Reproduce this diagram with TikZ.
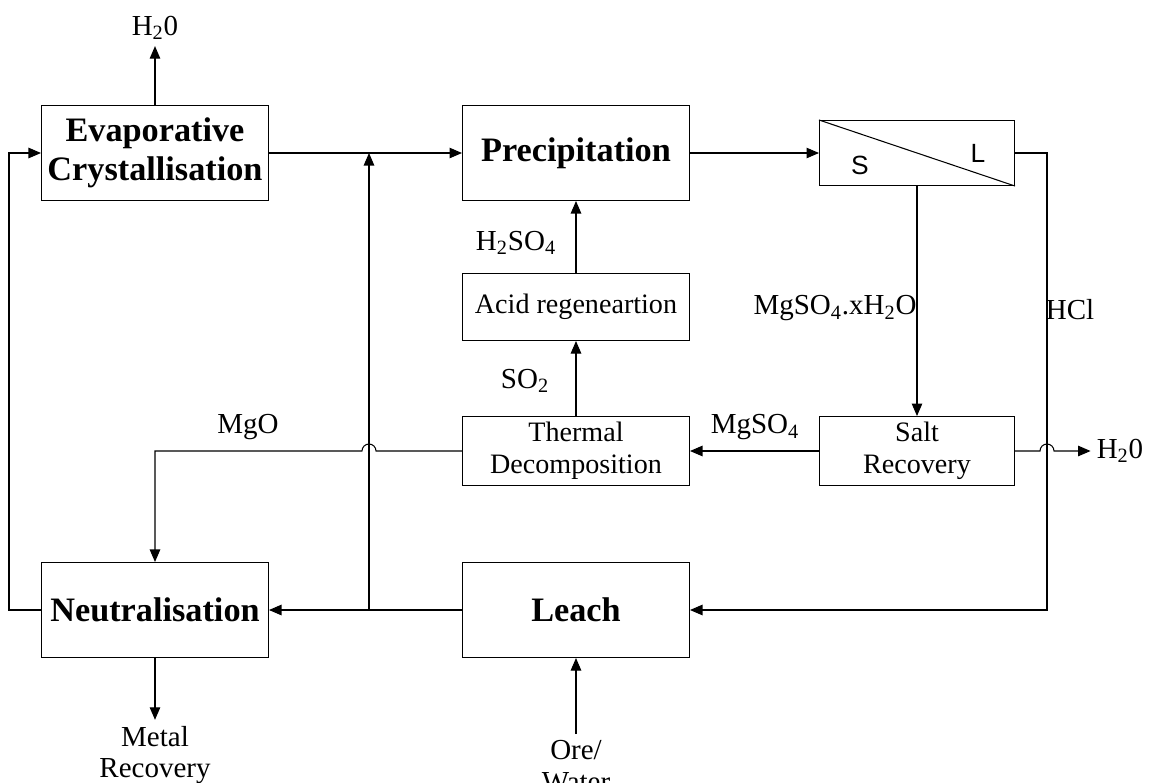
\documentclass[tikz,border=0pt]{standalone}
\usepackage{fontspec}
\setmainfont{Liberation Serif}
\newfontfamily\slfont{Liberation Sans}
\usetikzlibrary{arrows.meta, positioning}

\begin{document}
\begin{tikzpicture}[x=0.02cm, y=-0.02cm,
      unit/.style={draw, line width=0.6pt, minimum width=4.54cm, minimum height=1.9cm,
                   align=center, font=\fontsize{19.5}{22}\selectfont\bfseries},
      sub/.style={draw, line width=0.6pt, minimum width=4.54cm, minimum height=1.34cm,
                  align=center, font=\fontsize{16}{18}\selectfont},
      narrow/.style={minimum width=3.9cm, minimum height=1.3cm},
      lbl/.style={align=center, font=\fontsize{16.5}{18}\selectfont},
      phase/.style={font=\slfont\fontsize{15}{15}\selectfont},
      flow/.style={-{Triangle[length=2.5mm,width=2.1mm]}, line width=0.6pt},
      pipe/.style={line width=0.6pt}]
    \useasboundingbox (0,0) rectangle (1153,782);
    % process units
    \node[unit] (evap) at (155,153) {Evaporative\\Crystallisation};
    \node[unit] (precip) at (576,153) {Precipitation};
    \node[sub, narrow] (sep) at (917,153) {};
    \draw[pipe] (sep.north west) -- (sep.south east);
    \node[phase] (solid) at (860,165) {S};
    \node[phase] (liquid) at (978,153) {L};
    \node[sub] (acid) at (576,307) {Acid regeneartion};
    \node[sub] (thermal) at (576,451) {Thermal\\Decomposition};
    \node[sub, narrow] (salt) at (917,451) {Salt\\Recovery};
    \node[unit] (neut) at (155,610) {Neutralisation};
    \node[unit] (leach) at (576,610) {Leach};
    % stream labels
    \node[lbl] (topwater) at (155,28) {H\textsubscript{2}0};
    \node[lbl] (sidewater) at (1120,451) {H\textsubscript{2}0};
    \node[lbl] (metal) at (155,755) {Metal\\Recovery};
    \node[lbl] (ore) at (576,766) {Ore/\\Water};
    \node[lbl] (hcl) at (1070,310) {HCl};
    \node[lbl] (hydrate) at (835,308) {MgSO\textsubscript{4}.xH\textsubscript{2}O};
    \node[lbl] (sulfate) at (755,427) {MgSO\textsubscript{4}};
    \node[lbl] (dioxide) at (525,381) {SO\textsubscript{2}};
    \node[lbl] (acidout) at (516,243) {H\textsubscript{2}SO\textsubscript{4}};
    \node[lbl] (oxide) at (248,427) {MgO};
    \coordinate (split) at (369,610);
    \coordinate (hclbend) at (1047,153);
    % streams
    \draw[flow] (evap.north) -- (topwater.south);
    \draw[flow] (evap.east) -- (precip.west);
    \draw[flow] (precip.east) -- (sep.west);
    \draw[flow] (sep.south) -- (salt.north);
    \draw[flow] (sep.east) -- (hclbend) |- (leach.east);
    \draw[flow] (salt.west) -- (thermal.east);
    \draw[flow] (salt.east) -- (1040,451) arc[start angle=180, end angle=0, radius=0.14cm]
      -- (sidewater.west);
    \draw[flow] (thermal.north) -- (acid.south);
    \draw[flow] (acid.north) -- (precip.south);
    \draw[flow] (thermal.west) -- (376,451) arc[start angle=0, end angle=180, radius=0.14cm]
      -- (155,451) -- (neut.north);
    \draw[flow] (leach.west) -- (neut.east);
    \draw[flow] (split) -- (split |- evap.east);
    \draw[flow] (neut.west) -- ++(-32,0) |- (evap.west);
    \draw[flow] (neut.south) -- (metal.north);
    \draw[flow] (ore.north) -- (leach.south);
  \end{tikzpicture}
\end{document}
